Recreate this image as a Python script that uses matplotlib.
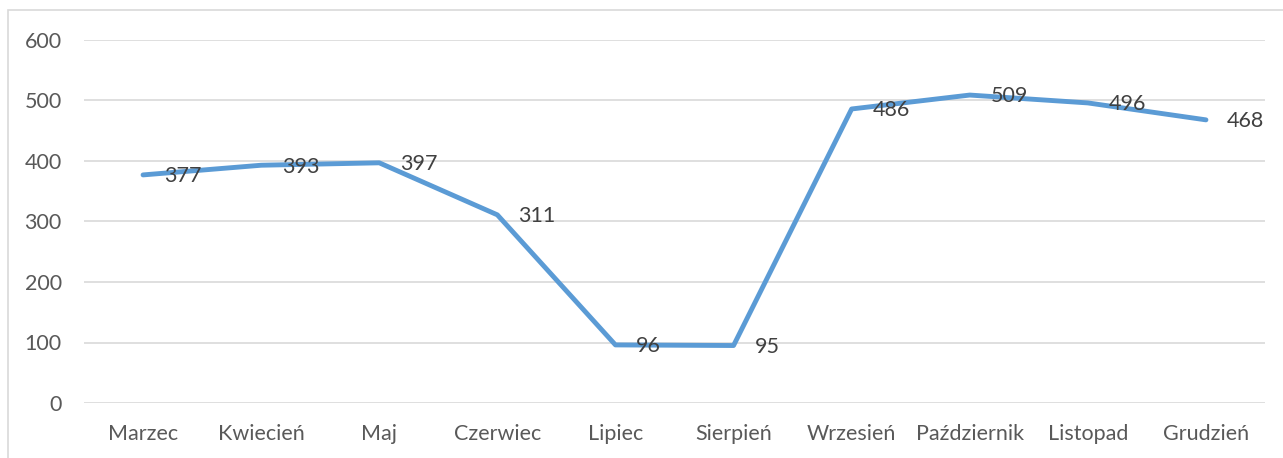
import matplotlib
matplotlib.use("Agg")
import matplotlib.pyplot as plt
from matplotlib.patches import Rectangle

# dane
miesiace = ['Marzec', 'Kwiecień', 'Maj', 'Czerwiec', 'Lipiec', 'Sierpień',
            'Wrzesień', 'Październik', 'Listopad', 'Grudzień']
wartosci = [377, 393, 397, 311, 96, 95, 486, 509, 496, 468]
y_ticks = [0, 100, 200, 300, 400, 500, 600]

W, H = 1283, 458
plt.rcParams['font.family'] = ['Lato', 'DejaVu Sans']

fig = plt.figure(figsize=(W / 100, H / 100), dpi=100)
ax = fig.add_axes([84 / W, 1 - 403 / H, (1265 - 84) / W, (403 - 40) / H])

x = list(range(len(miesiace)))
ax.plot(x, wartosci, color='#5B9BD5', lw=3.5, solid_capstyle='round',
        solid_joinstyle='round', zorder=3)

# etykiety danych po prawej stronie punktów
for xi, v in zip(x, wartosci):
    ax.annotate(str(v), (xi, v), xytext=(15, -1), textcoords='offset points',
                ha='left', va='center', fontsize=15.5, color='#404040', zorder=4)

ax.set_xlim(-0.5, len(miesiace) - 0.5)
ax.set_ylim(0, 600)
ax.set_yticks(y_ticks)
ax.set_xticks(x)
ax.set_xticklabels(miesiace)
ax.grid(axis='y', color='#D9D9D9', lw=1.2)
ax.set_axisbelow(True)
for s in ax.spines.values():
    s.set_visible(False)
ax.tick_params(axis='both', length=0, labelsize=15.5, labelcolor='#595959')
ax.tick_params(axis='y', pad=16)
ax.tick_params(axis='x', pad=15)

# ramka wykresu
fig.patches.append(Rectangle((8 / W, -0.1), 1.2, 1 - 10 / H + 0.1,
                             transform=fig.transFigure, fill=False,
                             edgecolor='#D9D9D9', lw=1.2))

fig.savefig('out.png', dpi=100)
